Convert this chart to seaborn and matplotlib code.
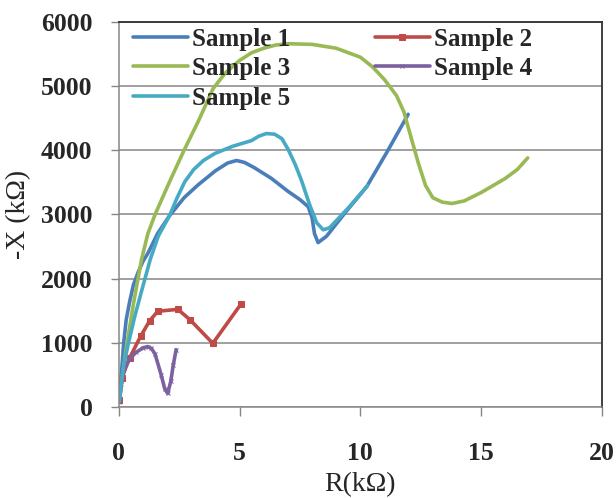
import matplotlib
matplotlib.use("Agg")
import matplotlib.pyplot as plt
import pandas as pd
import seaborn as sns

# ---- data (R in kOhm, -X in kOhm) ----
s1_r = [0.02, 0.1, 0.2, 0.3, 0.44, 0.6, 0.8, 1.0, 1.21, 1.6, 2.08, 2.7, 3.28, 4.0, 4.5, 4.87, 5.2, 5.6, 6.32, 7.0, 7.5, 7.84, 8.0, 8.1, 8.25, 8.6, 9.4, 10.26, 11.1, 11.98]
s1_x = [100, 500, 1000, 1350, 1630, 1900, 2100, 2270, 2400, 2700, 2970, 3260, 3460, 3680, 3800, 3840, 3810, 3730, 3560, 3360, 3230, 3120, 2950, 2700, 2560, 2660, 3040, 3430, 3970, 4560]

s2_r = [0.02, 0.12, 0.44, 0.9, 1.27, 1.61, 2.44, 2.94, 3.89, 5.05]
s2_x = [100, 450, 760, 1100, 1340, 1490, 1520, 1360, 990, 1600]

s3_r = [0.02, 0.15, 0.3, 0.6, 0.94, 1.2, 1.5, 2.1, 2.7, 3.3, 3.9, 4.4, 5.0, 5.5, 6.0, 6.5, 7.0, 8.0, 9.0, 10.0, 10.5, 11.0, 11.5, 11.8, 12.1, 12.4, 12.7, 13.0, 13.4, 13.8, 14.3, 15.0, 16.0, 16.5, 16.93]
s3_x = [100, 500, 900, 1600, 2300, 2700, 3000, 3510, 4000, 4460, 4960, 5200, 5400, 5520, 5590, 5640, 5660, 5650, 5590, 5450, 5300, 5100, 4850, 4600, 4200, 3800, 3450, 3260, 3190, 3170, 3210, 3340, 3560, 3700, 3880]

s4_r = [0.02, 0.1, 0.23, 0.45, 0.71, 1.0, 1.19, 1.35, 1.5, 1.75, 1.9, 2.02, 2.15, 2.25, 2.37]
s4_x = [80, 350, 600, 750, 850, 920, 940, 910, 820, 500, 280, 210, 400, 650, 890]

s5_r = [0.02, 0.1, 0.2, 0.4, 0.65, 0.9, 1.3, 1.63, 2.11, 2.4, 2.73, 3.1, 3.5, 3.98, 4.7, 5.49, 5.8, 6.11, 6.45, 6.75, 7.0, 7.3, 7.56, 7.9, 8.19, 8.46, 8.72, 9.5, 10.3]
s5_x = [80, 350, 650, 1000, 1400, 1750, 2300, 2660, 2990, 3250, 3510, 3700, 3840, 3950, 4060, 4150, 4220, 4260, 4250, 4180, 4020, 3780, 3530, 3150, 2870, 2760, 2790, 3100, 3450]

names = ["Sample 1", "Sample 2", "Sample 3", "Sample 4", "Sample 5"]
x_ticks = [0, 5, 10, 15, 20]
y_ticks = [0, 1000, 2000, 3000, 4000, 5000, 6000]

colors = ["#4A7EBB", "#BE4B48", "#98B954", "#7D60A0", "#46AAC5"]
markers = ["", "s", "", "x", ""]
msizes = [0, 4, 0, 3, 0]

sns.set_style("white")
plt.rcParams['font.family'] = ['Liberation Serif', 'DejaVu Serif']

fig = plt.figure(figsize=(6.16, 4.98), dpi=100)
ax = fig.add_axes([0.193, 0.183, 0.784, 0.773])

ax.set_axisbelow(True)
ax.yaxis.grid(True, color="#868686", linewidth=1.1)
ax.xaxis.grid(False)

series = [(s1_r, s1_x), (s2_r, s2_x), (s3_r, s3_x), (s4_r, s4_x), (s5_r, s5_x)]
for (r, x), name, c, m, ms in zip(series, names, colors, markers, msizes):
    df = pd.DataFrame({"R": r, "X": x})
    sns.lineplot(data=df, x="R", y="X", ax=ax, color=c, linewidth=2.6,
                 sort=False, estimator=None, marker=m, markersize=ms,
                 markeredgecolor=c, markerfacecolor=c, label=name)

ax.set_xlim(0, 20)
ax.set_ylim(0, 6000)
ax.set_xticks(x_ticks)
ax.set_yticks(y_ticks)
ax.set_xticklabels([str(t) for t in x_ticks], fontsize=18.5, fontweight="bold")
ax.set_yticklabels([str(t) for t in y_ticks], fontsize=18.5, fontweight="bold")
ax.tick_params(axis="x", direction="out", length=6.5, width=1, color="#868686", pad=19, bottom=True)
ax.tick_params(axis="y", direction="out", length=6, width=1, color="#868686", pad=13, left=True)

ax.set_xlabel("R(kΩ)", fontsize=20, labelpad=5)
ax.set_ylabel("-X (kΩ)", fontsize=20, labelpad=7)

for side in ["left", "bottom"]:
    ax.spines[side].set_color("#868686")
    ax.spines[side].set_linewidth(1.1)
for side in ["top", "right"]:
    ax.spines[side].set_color("#303030")
    ax.spines[side].set_linewidth(1.3)

h, l = ax.get_legend_handles_labels()
order = [0, 2, 4, 1, 3]
ax.legend([h[i] for i in order], [l[i] for i in order], ncol=2, loc="upper left",
          bbox_to_anchor=(0.029, 0.985), frameon=False, borderaxespad=0, borderpad=0,
          handlelength=2.2, handletextpad=0.15, columnspacing=3.4, labelspacing=0.26,
          prop={"family": "Liberation Serif", "weight": "bold", "size": 18})

fig.savefig("out.png", dpi=100)
